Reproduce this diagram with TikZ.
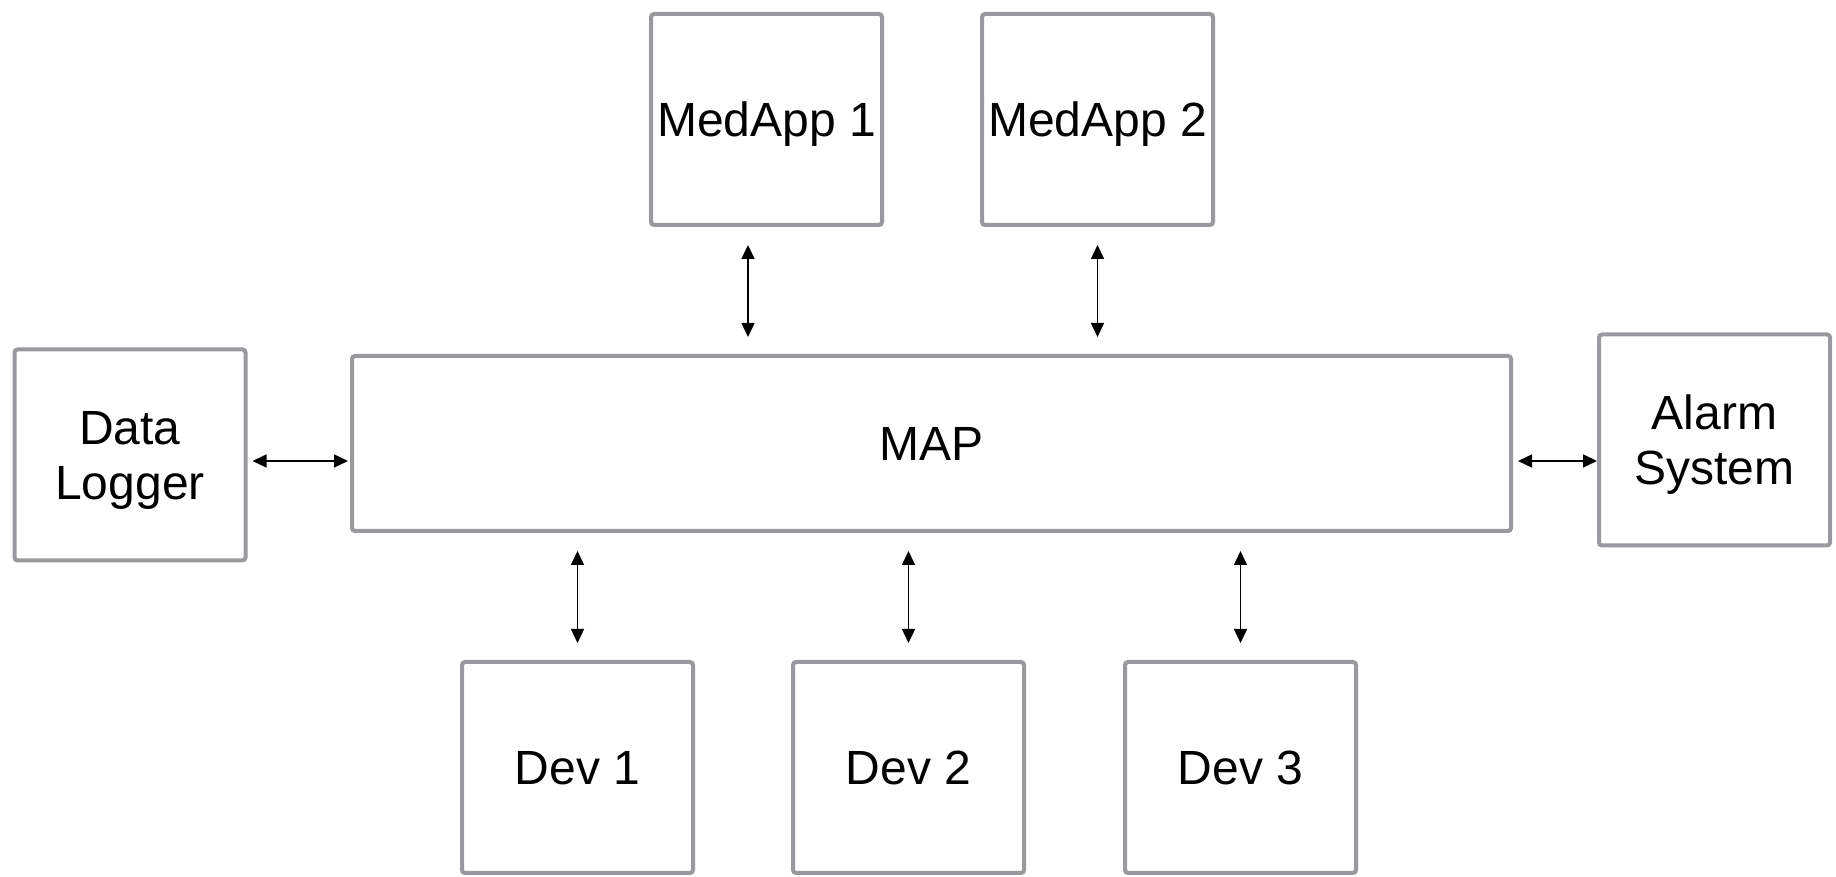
\documentclass[tikz,border=0pt]{standalone}
\usepackage{fontspec}
\setmainfont{Liberation Sans}
\usetikzlibrary{arrows.meta}
\newcommand{\canvaswidth}{918pt}
\newcommand{\canvasheight}{438.5pt}
\newcommand{\boxwidth}{115.5pt}
\newcommand{\boxheight}{105.5pt}
\definecolor{boxborder}{HTML}{999A9E}
\definecolor{arrowcolor}{HTML}{000000}
\definecolor{labelcolor}{HTML}{000000}

\tikzset{
  unitbox/.style={draw=boxborder, line width=2pt, rounded corners=1.5pt, fill=white,
    minimum width=\boxwidth, minimum height=\boxheight, inner sep=0pt, align=center,
    text depth=0pt, font=\fontsize{24}{27.5}\selectfont\color{labelcolor}},
  linkarrow/.style={arrowcolor, line width=0.75pt,
    {Triangle[length=7pt,width=6.5pt]}-{Triangle[length=7pt,width=6.5pt]}},
  vgap/.style={shorten <=9pt, shorten >=8.5pt},
}

\begin{document}
\begin{tikzpicture}
  % Canvas
  \useasboundingbox (0,0) rectangle (\canvaswidth, \canvasheight);

  % Central platform
  \node[unitbox, minimum width=579.5pt, minimum height=87.5pt] (map) at (465.75pt, 216.75pt) {MAP};

  % Apps on top
  \node[unitbox] (medapp1) at (383.25pt, 378.75pt) {MedApp 1};
  \node[unitbox] (medapp2) at (548.75pt, 378.75pt) {MedApp 2};

  % Side units
  \node[unitbox] (logger) at (65pt, 211pt) {Data\\Logger};
  \node[unitbox] (alarm) at (857.25pt, 218.5pt) {Alarm\\System};

  % Devices below
  \foreach \i/\x in {1/288.75, 2/454.25, 3/620.25} {
    \node[unitbox] (dev\i) at (\x pt, 54.75pt) {Dev \i};
  }

  % === LINKS ===
  \coordinate (sidetrack) at (0, 208pt);
  \coordinate (apptrack) at (374pt, 0);

  \draw[linkarrow, shorten <=2.5pt, shorten >=1pt] (logger.east |- sidetrack) -- (map.west |- sidetrack);
  \draw[linkarrow, shorten <=2.5pt, shorten >=0pt] (map.east |- sidetrack) -- (alarm.west |- sidetrack);

  \draw[linkarrow, vgap] (medapp1.south -| apptrack) -- (map.north -| apptrack);
  \draw[linkarrow, vgap] (medapp2.south) -- (map.north -| medapp2.south);

  \foreach \i in {1,2,3} {
    \draw[linkarrow, vgap] (map.south -| dev\i.north) -- (dev\i.north);
  }
\end{tikzpicture}
\end{document}
